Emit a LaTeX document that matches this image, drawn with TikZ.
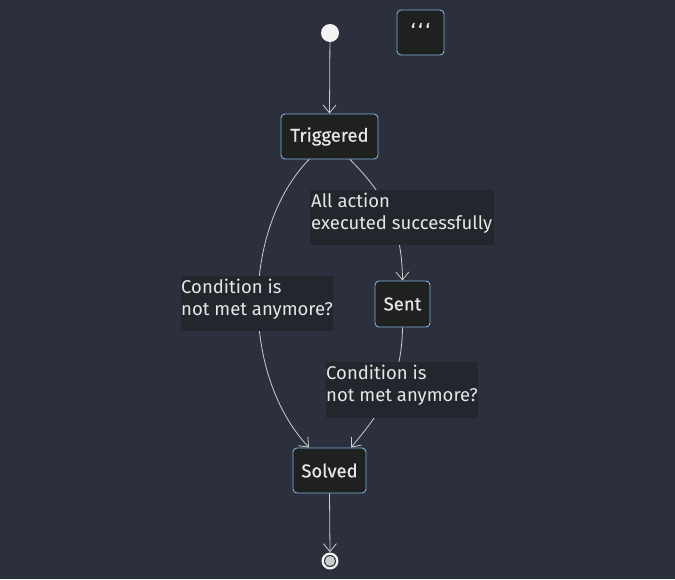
\documentclass[tikz,border=0pt]{standalone}
\usepackage{fontspec}
\setmainfont{Fira Sans}[BoldFont={Fira Sans}, BoldFeatures={FakeBold=0.5}]
\usetikzlibrary{arrows.meta}
\definecolor{bgc}{HTML}{2B303C}
\definecolor{nodefill}{HTML}{1F2020}
\definecolor{nodeborder}{HTML}{81B1DB}
\definecolor{txt}{HTML}{E6E6E6}
\definecolor{linec}{HTML}{CCCCCC}
\definecolor{lblbg}{HTML}{23262D}
\tikzset{
  statebox/.style={draw=nodeborder, fill=nodefill, rounded corners=4pt, line width=0.9pt,
    text=txt, font=\fontsize{18.5}{22}\selectfont\bfseries, inner sep=0pt},
  lblbox/.style={fill=lblbg, inner sep=0pt, anchor=north west},
  edgelbl/.style={text=txt, align=left, font=\fontsize{18.5}{22}\selectfont,
    inner sep=0pt, anchor=north west},
  conn/.style={draw=linec, line width=0.8pt, -{Straight Barb[length=8pt,width=13pt]}}
}
\begin{document}
\begin{tikzpicture}[x=1pt,y=-1pt]
\fill[bgc] (0,0) rectangle (675,579);
\useasboundingbox (0,0) rectangle (675,579);
% start
\node[circle, fill=white!95!black, minimum size=18pt, inner sep=0pt] (start) at (330,33) {};
% odd box
\node[statebox, minimum width=47pt, minimum height=45pt] (tick) at (420.5,32.5) {\raisebox{5pt}{\symbol{96}\,\symbol{96}\,\symbol{96}}};
% states
\node[statebox, minimum width=97pt, minimum height=45pt] (trig) at (329.5,136.5) {Triggered};
\node[statebox, minimum width=55pt, minimum height=46pt] (sent) at (402.5,304) {Sent};
\node[statebox, minimum width=73pt, minimum height=45pt] (solved) at (329.5,470.5) {Solved};
% end
\node[circle, fill=white!95!black, minimum size=17pt, inner sep=0pt] (endo) at (330,561) {};
\node[circle, fill=bgc, minimum size=12pt, inner sep=0pt] (endm) at (330,561) {};
\node[circle, fill=linec, minimum size=10pt, inner sep=0pt] (endi) at (330,561) {};
% coordinates on borders
\coordinate (t1) at ([xshift=-20.5pt]trig.south);
\coordinate (t2) at ([xshift=20.5pt]trig.south);
\coordinate (s1) at ([xshift=-20.5pt]solved.north);
\coordinate (s2) at ([xshift=21.5pt]solved.north);
% edges
\draw[conn] (start) -- (trig.north);
\draw[conn] (t1) .. controls (241,230) and (241,375) .. (s1);
\draw[conn] (t2) .. controls (385,195) and (402,225) .. (sent.north);
\draw[conn] (sent.south) .. controls (402,385) and (378,415) .. (s2);
\draw[conn] (solved.south) -- (endo.north);
% labels
\node[lblbox, minimum width=184pt, minimum height=55pt] (b1) at (310,190) {};
\node[edgelbl] (l1) at (311,193) {All action\\executed successfully};
\node[lblbox, minimum width=152pt, minimum height=55pt] (b2) at (181,276) {};
\node[edgelbl] (l2) at (181,279) {Condition is\\not met anymore?};
\node[lblbox, minimum width=152pt, minimum height=56pt] (b3) at (326,362) {};
\node[edgelbl] (l3) at (326,365) {Condition is\\not met anymore?};
\end{tikzpicture}
\end{document}
